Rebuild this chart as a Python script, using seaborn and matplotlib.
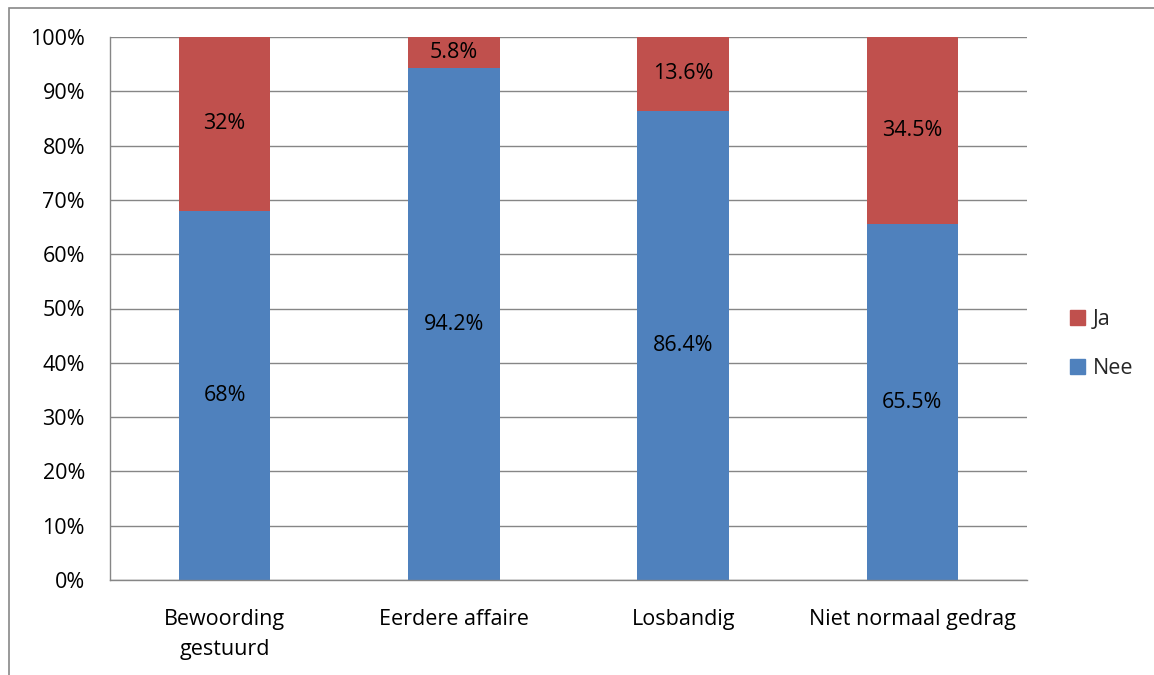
import matplotlib
matplotlib.use("Agg")
import matplotlib.pyplot as plt
import seaborn as sns
import pandas as pd
from matplotlib.patches import Rectangle, Patch

categories = ["Bewoording\ngestuurd", "Eerdere affaire", "Losbandig", "Niet normaal gedrag"]
nee = [68.0, 94.2, 86.4, 65.5]
ja = [32.0, 5.8, 13.6, 34.5]
nee_labels = ["68%", "94.2%", "86.4%", "65.5%"]
ja_labels = ["32%", "5.8%", "13.6%", "34.5%"]
yticks = list(range(0, 101, 10))

sns.set_theme(style="white")
plt.rcParams['font.family'] = ['Open Sans', 'DejaVu Sans']

RED = "#C0504D"
BLUE = "#4F81BD"
GRID = "#868686"

fig = plt.figure(figsize=(11.54, 6.75), dpi=100)
ax = fig.add_axes([110/1154, 1-580/675, 917/1154, 543/675])

df = pd.DataFrame({"cat": categories, "nee": nee, "ja": ja})
sns.barplot(data=df, x="cat", y="nee", color=BLUE, width=0.4, saturation=1, ax=ax,
            zorder=3, linewidth=0)
sns.barplot(data=df, x="cat", y="ja", color=RED, width=0.4, saturation=1, ax=ax,
            bottom=df["nee"].values, zorder=3, linewidth=0)

fs = 15.5
for i, (n, j) in enumerate(zip(nee, ja)):
    ax.text(i, n/2, nee_labels[i], ha="center", va="center", fontsize=fs, color="black", zorder=4)
    ax.text(i, n + j/2, ja_labels[i], ha="center", va="center", fontsize=fs, color="black", zorder=4)

ax.set_xlim(-0.5, 3.5)
ax.set_ylim(0, 100)
ax.set_yticks(yticks)
ax.set_yticklabels([f"{v}%" for v in yticks], fontsize=fs)
ax.yaxis.grid(True, color=GRID, linewidth=1.0, zorder=0)
ax.set_axisbelow(True)
ax.set_xlabel("")
ax.set_ylabel("")

ax.set_xticks([0, 1, 2, 3])
ax.set_xticklabels(categories, fontsize=fs, linespacing=1.55)
ax.set_xticks([-0.5, 0.5, 1.5, 2.5, 3.5], minor=True)
ax.tick_params(axis="x", which="major", length=0, pad=21)
ax.tick_params(axis="x", which="minor", length=7, width=1, color=GRID, direction="out")
ax.tick_params(axis="y", length=7, width=1, color=GRID, direction="out", pad=11)
ax.tick_params(axis="both", labelcolor="black")

for s in ["top", "right"]:
    ax.spines[s].set_visible(False)
for s in ["left", "bottom"]:
    ax.spines[s].set_color(GRID)
    ax.spines[s].set_linewidth(1.0)
    ax.spines[s].set_zorder(5)

handles = [Patch(color=RED, label="Ja"), Patch(color=BLUE, label="Nee")]
fig.legend(handles=handles, loc="center left", bbox_to_anchor=(1051/1154, 1-344/675),
           frameon=False, fontsize=fs, handlelength=0.7, handleheight=0.7,
           handletextpad=0.35, labelspacing=1.3)

fig.patches.append(Rectangle((9/1154, -0.1), 1.2, (1-8/675) + 0.1, transform=fig.transFigure,
                             fill=False, edgecolor="#888888", linewidth=1.2))

fig.savefig("out.png", dpi=100, facecolor="white")
